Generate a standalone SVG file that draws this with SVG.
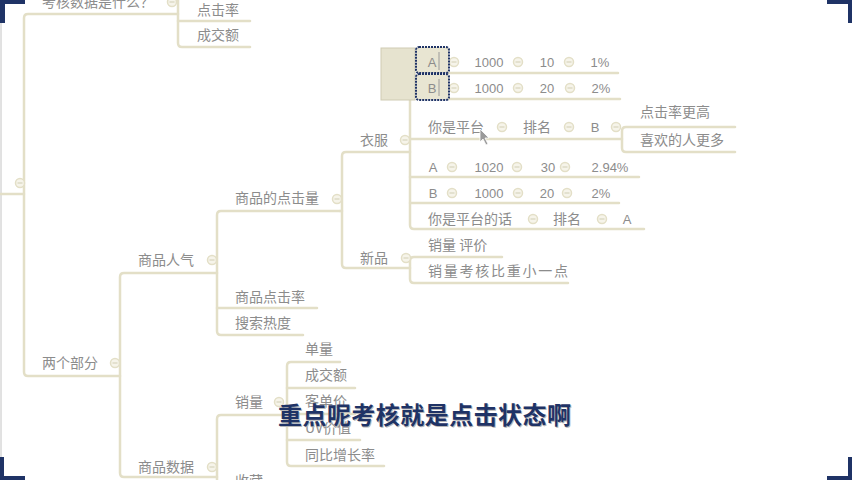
<svg xmlns="http://www.w3.org/2000/svg" width="852" height="480" viewBox="0 0 852 480">
<style>
.ln{fill:none;stroke:#e3dfc7;stroke-width:2.5;stroke-linejoin:round;stroke-linecap:round}
.t{font-family:"Noto Sans CJK SC","Noto Sans",sans-serif;font-size:14px;fill:#8c8c8c}
.n{font-family:"Liberation Sans","DejaVu Sans",sans-serif;font-size:13px;fill:#8c8c8c}
.tg{fill:#f6f4ea;stroke:#e3dfc7;stroke-width:1.5}
.tm{stroke:#d8d4bc;stroke-width:1.2}
.sel{fill:#e8e5d2;stroke:#1f3366;stroke-width:2;stroke-dasharray:2 1}
.sub{font-family:"Noto Sans CJK SC",sans-serif;font-size:24px;font-weight:700}
.mk{fill:#1f3366}
</style>
<defs>
<g id="tog"><circle r="4.5" class="tg"/><line x1="-2.5" y1="0" x2="2.5" y2="0" class="tm"/></g>
</defs>
<rect width="852" height="480" fill="#ffffff"/>
<line x1="1" y1="20" x2="1" y2="460" stroke="#c4c4c4" stroke-width="1"/>

<g id="connectors">
<!-- root to spine -->
<path class="ln" d="M0 194 H24"/>
<!-- left spine -->
<path class="ln" d="M178 14 H28 Q24 14 24 18 V372 Q24 376 28 376 H120"/>
<!-- top branch children -->
<path class="ln" d="M178 -4 V43 Q178 47 182 47 H250"/>
<path class="ln" d="M178 21 H250"/>
<!-- 两个部分 children -->
<path class="ln" d="M217 273 H124 Q120 273 120 277 V473 Q120 477 124 477 H217"/>
<!-- 商品人气 children -->
<path class="ln" d="M340 211 H221 Q217 211 217 215 V331 Q217 335 221 335 H303"/>
<path class="ln" d="M217 308 H317"/>
<!-- 商品的点击量 children -->
<path class="ln" d="M410 152 H346 Q342 152 342 156 V264 Q342 268 346 268 H410"/>
<path class="ln" d="M342 211 H340"/>
<!-- 衣服 children -->
<path class="ln" d="M410 100 V225 Q410 229 414 229 H644"/>
<path class="ln" d="M449 73 H618"/>
<path class="ln" d="M449 99 H620"/>
<path class="ln" d="M410 139 H622"/>
<path class="ln" d="M410 177 H639"/>
<path class="ln" d="M410 203 H619"/>
<!-- B children -->
<path class="ln" d="M735 127 H626 Q622 127 622 131 V148 Q622 152 626 152 H735"/>
<!-- 新品 children -->
<path class="ln" d="M502 257 H414 Q410 257 410 261 V279 Q410 283 414 283 H568"/>
<!-- 商品数据 children -->
<path class="ln" d="M287 415 H221 Q217 415 217 419 V486"/>
<!-- 销量 children -->
<path class="ln" d="M340 362 H291 Q287 362 287 366 V462 Q287 466 291 466 H384"/>
<path class="ln" d="M287 388 H355"/>
<path class="ln" d="M287 414 H355"/>
<path class="ln" d="M287 440 H360"/>
</g>

<g id="toggles">
<use href="#tog" x="20" y="183"/>
<use href="#tog" x="172" y="2"/>
<use href="#tog" x="115" y="363"/>
<use href="#tog" x="212" y="260"/>
<use href="#tog" x="337" y="199"/>
<use href="#tog" x="405" y="140"/>
<use href="#tog" x="406" y="258"/>
<use href="#tog" x="212" y="467"/>
<use href="#tog" x="279" y="402"/>
<use href="#tog" x="454" y="62"/>
<use href="#tog" x="518" y="62"/>
<use href="#tog" x="569" y="62"/>
<use href="#tog" x="454" y="88"/>
<use href="#tog" x="518" y="88"/>
<use href="#tog" x="570" y="88"/>
<use href="#tog" x="502" y="127"/>
<use href="#tog" x="569" y="127"/>
<use href="#tog" x="616" y="127"/>
<use href="#tog" x="452" y="167"/>
<use href="#tog" x="517" y="167"/>
<use href="#tog" x="565" y="167"/>
<use href="#tog" x="452" y="193"/>
<use href="#tog" x="518" y="193"/>
<use href="#tog" x="567" y="193"/>
<use href="#tog" x="533" y="219"/>
<use href="#tog" x="602" y="219"/>
</g>

<g id="n-kaohe"><text class="t" x="42" y="7">考核数据是什么？</text></g>
<g id="n-djl"><text class="t" x="197" y="15">点击率</text></g>
<g id="n-cje"><text class="t" x="197" y="40">成交额</text></g>
<g id="n-lgbf"><text class="t" x="42" y="368">两个部分</text></g>
<g id="n-sprq"><text class="t" x="138" y="265">商品人气</text></g>
<g id="n-spdjl"><text class="t" x="235" y="203">商品的点击量</text></g>
<g id="n-spdjlv"><text class="t" x="235" y="302">商品点击率</text></g>
<g id="n-ssrd"><text class="t" x="235" y="328">搜索热度</text></g>
<g id="n-yf"><text class="t" x="360" y="145">衣服</text></g>
<g id="n-xp"><text class="t" x="360" y="263">新品</text></g>

<g id="n-sel">
<rect x="381" y="48" width="34" height="52" fill="#e6e3cf" stroke="#cfcbb3" stroke-width="1"/>
</g>
<g id="n-rowA">
<rect x="416" y="47" width="33" height="26" rx="3" class="sel"/>
<text class="n" x="432" y="67" text-anchor="middle">A</text>
<line x1="439" y1="52" x2="439" y2="70" stroke="#9a9a9a" stroke-width="1"/>
<text class="n" x="489" y="67" text-anchor="middle">1000</text>
<text class="n" x="547" y="67" text-anchor="middle">10</text>
<text class="n" x="600" y="67" text-anchor="middle">1%</text>
</g>
<g id="n-rowB">
<rect x="416" y="74" width="33" height="26" rx="3" class="sel"/>
<text class="n" x="432" y="93" text-anchor="middle">B</text>
<line x1="439" y1="79" x2="439" y2="96" stroke="#9a9a9a" stroke-width="1"/>
<text class="n" x="489" y="93" text-anchor="middle">1000</text>
<text class="n" x="547" y="93" text-anchor="middle">20</text>
<text class="n" x="601" y="93" text-anchor="middle">2%</text>
</g>
<g id="n-nspt">
<text class="t" x="428" y="132">你是平台</text>
<text class="t" x="523" y="132">排名</text>
<text class="n" x="595" y="132" text-anchor="middle">B</text>
</g>
<g id="n-djlgg"><text class="t" x="640" y="117">点击率更高</text></g>
<g id="n-xhdr"><text class="t" x="640" y="145">喜欢的人更多</text></g>
<g id="n-rowA2">
<text class="n" x="433" y="172" text-anchor="middle">A</text>
<text class="n" x="489" y="172" text-anchor="middle">1020</text>
<text class="n" x="548" y="172" text-anchor="middle">30</text>
<text class="n" x="610" y="172" text-anchor="middle">2.94%</text>
</g>
<g id="n-rowB2">
<text class="n" x="433" y="198" text-anchor="middle">B</text>
<text class="n" x="489" y="198" text-anchor="middle">1000</text>
<text class="n" x="547" y="198" text-anchor="middle">20</text>
<text class="n" x="601" y="198" text-anchor="middle">2%</text>
</g>
<g id="n-nsptdh">
<text class="t" x="428" y="224">你是平台的话</text>
<text class="t" x="553" y="224">排名</text>
<text class="n" x="627" y="224" text-anchor="middle">A</text>
</g>
<g id="n-xlpj"><text class="t" x="428" y="250">销量  评价</text></g>
<g id="n-xlkh"><text class="t" x="428" y="276" textLength="140">销量考核比重小一点</text></g>

<g id="n-spsj"><text class="t" x="138" y="472">商品数据</text></g>
<g id="n-xl"><text class="t" x="235" y="407">销量</text></g>
<g id="n-dl"><text class="t" x="305" y="354">单量</text></g>
<g id="n-cje2"><text class="t" x="305" y="380">成交额</text></g>
<g id="n-kdj"><text class="t" x="305" y="406">客单价</text></g>
<g id="n-uv"><text class="t" x="305" y="433">UV价值</text></g>
<g id="n-tbzz"><text class="t" x="305" y="460">同比增长率</text></g>
<g id="n-sc"><text class="t" x="235" y="486">收藏</text></g>

<!-- mouse cursor -->
<path d="M480 129 L480 142 L483 139 L486 145 L488 144 L485 138 L489 138 Z" fill="#9a9a9a" stroke="#ffffff" stroke-width="0.8"/>

<!-- subtitle -->
<text class="sub" x="279" y="425" fill="#b8b8b8" textLength="293">重点呢考核就是点击状态啊</text>
<text class="sub" x="278" y="424" fill="#1f3366" textLength="293">重点呢考核就是点击状态啊</text>

<!-- corner marks -->
<g id="corners">
<rect class="mk" x="0" y="0" width="25" height="4"/>
<rect class="mk" x="0" y="0" width="5" height="23"/>
<rect class="mk" x="827" y="0" width="25" height="4"/>
<rect class="mk" x="848" y="0" width="4" height="23"/>
<rect class="mk" x="0" y="476" width="25" height="4"/>
<rect class="mk" x="0" y="457" width="4" height="23"/>
<rect class="mk" x="827" y="476" width="25" height="4"/>
<rect class="mk" x="848" y="457" width="4" height="23"/>
</g>
</svg>
